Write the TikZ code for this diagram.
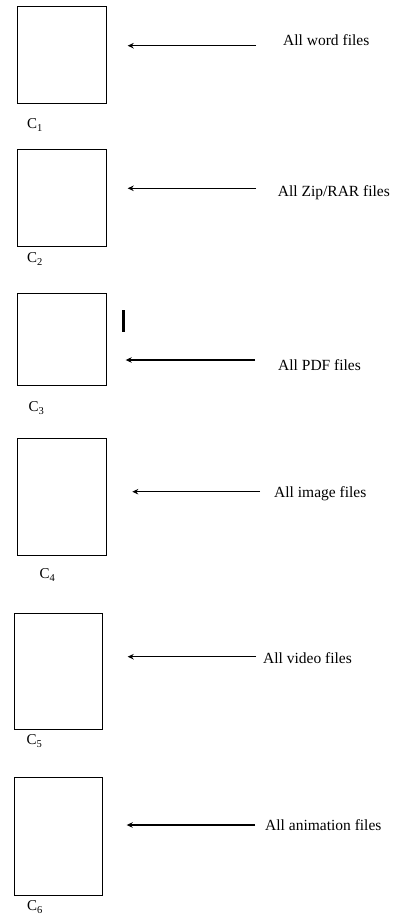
\documentclass[tikz,border=0pt]{standalone}
\usepackage{fontspec}
\setmainfont{Liberation Serif}
\usetikzlibrary{arrows.meta}
\begin{document}
\begin{tikzpicture}[x=1pt, y=-1pt,
		bin/.style={draw, line width=1pt, rectangle, inner sep=0pt, minimum width=89pt},
		cname/.style={inner sep=0pt, font=\fontsize{15}{15}\selectfont},
		ftype/.style={anchor=base west, inner sep=0pt, font=\fontsize{15.5}{16}\selectfont},
		feed/.style={line width=1.4pt, -{Stealth[length=6pt, width=5.5pt]}}]
		\useasboundingbox (0, 0) rectangle (396, 924);
		% the six containers
		\node[bin, minimum height=97pt] (c1) at (62.2, 54.5) {};
		\node[bin, minimum height=96.7pt] (c2) at (62.2, 197.7) {};
		\node[bin, minimum height=92pt] (c3) at (62.2, 339.3) {};
		\node[bin, minimum height=116.7pt] (c4) at (62.2, 496.7) {};
		\node[bin, minimum width=87.6pt, minimum height=116pt] (c5) at (58.5, 671.3) {};
		\node[bin, minimum width=87.6pt, minimum height=117.7pt] (c6) at (58.5, 836.2) {};
		\node[cname] (l1) at (35, 125) {C\textsubscript{1}};
		\node[cname] (l2) at (35, 259) {C\textsubscript{2}};
		\node[cname] (l3) at (36.5, 408) {C\textsubscript{3}};
		\node[cname] (l4) at (47.5, 575) {C\textsubscript{4}};
		\node[cname] (l5) at (34.5, 741) {C\textsubscript{5}};
		\node[cname] (l6) at (35, 907) {C\textsubscript{6}};
		% file types
		\node[ftype] (t1) at (283, 45) {All word files};
		\node[ftype] (t2) at (277.7, 196.7) {All Zip/RAR files};
		\node[ftype] (t3) at (278, 370.7) {All PDF files};
		\node[ftype] (t4) at (274, 497.7) {All image files};
		\node[ftype] (t5) at (263, 663.3) {All video files};
		\node[ftype] (t6) at (265, 830) {All animation files};
		% arrows
		\coordinate (e1) at (256, 45.7);   \coordinate (h1) at (127.7, 45.7);
		\coordinate (e2) at (256, 188.3);  \coordinate (h2) at (127.7, 188.3);
		\coordinate (e3) at (255, 360);    \coordinate (h3) at (125.7, 360);
		\coordinate (e4) at (260, 491.7);  \coordinate (h4) at (132.3, 491.7);
		\coordinate (e5) at (256, 656.7);  \coordinate (h5) at (127.7, 656.7);
		\coordinate (e6) at (255, 825);    \coordinate (h6) at (126.7, 825);
		\draw[feed] (e1) -- (h1);
		\draw[feed] (e2) -- (h2);
		\draw[feed] (e3) -- (h3);
		\draw[feed] (e4) -- (h4);
		\draw[feed] (e5) -- (h5);
		\draw[feed] (e6) -- (h6);
		\draw[line width=2.5pt] (123.3, 310) -- (123.3, 331.7);
	\end{tikzpicture}
\end{document}
